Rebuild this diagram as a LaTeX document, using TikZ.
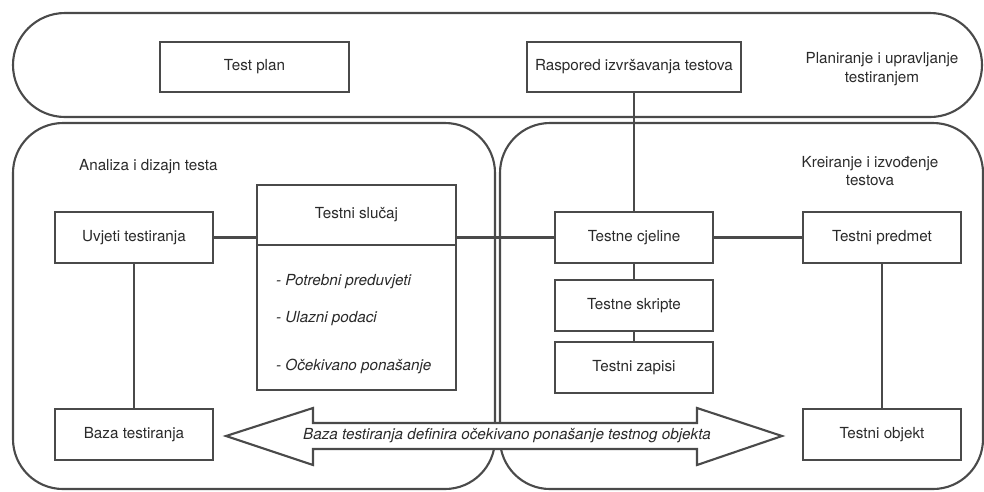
\documentclass[tikz,border=0pt]{standalone}
\usepackage{fontspec}
\setmainfont{TeX Gyre Heros}
\usetikzlibrary{positioning}
\definecolor{linegray}{HTML}{4A4A4A}
\definecolor{textgray}{HTML}{2A2A2A}

\begin{document}
\begin{tikzpicture}
    [
    x=0.03cm, y=-0.03cm,
    every node/.style={font=\fontsize{13}{16}\selectfont, text=textgray},
    box/.style={rectangle, draw=linegray, line width=1.3pt, fill=white, minimum width=4.74cm, minimum height=1.53cm, inner sep=1pt},
    area/.style={draw=linegray, line width=1.8pt, rounded corners=1.5cm},
    link/.style={draw=linegray, line width=2.4pt},
    item/.style={anchor=west, font=\fontsize{13}{16}\selectfont\itshape},
    bigarrow/.style={draw=linegray, line width=1.8pt, fill=white, line join=miter}
    ]
    \useasboundingbox (0,0) rectangle (984,491);

    \draw [area, rounded corners=1.56cm] (13,13) rectangle (982,117);
    \draw [area] (13,123) rectangle (495,489);
    \draw [area] (500,123) rectangle (983,489);

    \node (upr) at (882,69) [align=center] {Planiranje i upravljanje\\testiranjem};
    \node (ana) at (75,167) [anchor=west] {Analiza i dizajn testa};
    \node (kre) at (870,171) [align=center] {Kreiranje i izvođenje\\testova};

    \node (plan) at (254.5,67) [box, minimum width=5.67cm, minimum height=1.5cm] {Test plan};
    \node (rasp) at (634,67) [box, minimum width=6.42cm, minimum height=1.5cm] {Raspored izvršavanja testova};

    \node (uvj) at (134,237.5) [box] {Uvjeti testiranja};
    \node (baza) at (134,434.5) [box] {Baza testiranja};
    \node (tsl) at (356.5,215) [box, minimum width=5.97cm, minimum height=1.8cm] {Testni slučaj};
    \node (tsd) at (356.5,317.5) [box, minimum width=5.97cm, minimum height=4.35cm] {};
    \node (pot) at (272,282) [item] {- Potrebni preduvjeti};
    \node (ula) at (272,319) [item] {- Ulazni podaci};
    \node (oce) at (272,366) [item] {- Očekivano ponašanje};

    \node (cje) at (634,237.5) [box] {Testne cjeline};
    \node (skr) at (634,305.5) [box] {Testne skripte};
    \node (zap) at (634,367.5) [box] {Testni zapisi};
    \node (prd) at (882,237.5) [box] {Testni predmet};
    \node (obj) at (882,434.5) [box] {Testni objekt};

    \draw [bigarrow] (226,436) -- (313,408) -- (313,423) -- (697,423) -- (697,408) -- (782,436) -- (697,465) -- (697,449) -- (313,449) -- (313,465) -- cycle;
    \node (def) at (507,436) [item, anchor=center] {Baza testiranja definira očekivano ponašanje testnog objekta};

    \draw [link] (rasp) to (cje);
    \draw [link] (uvj.east) to (tsl.west |- uvj.east);
    \draw [link] (tsl.east |- cje.west) to (cje);
    \draw [link] (cje) to (prd);
    \draw [link] (cje) to (skr);
    \draw [link] (skr) to (zap);
    \draw [link] (uvj) to (baza);
    \draw [link] (prd) to (obj);
  \end{tikzpicture}
\end{document}
